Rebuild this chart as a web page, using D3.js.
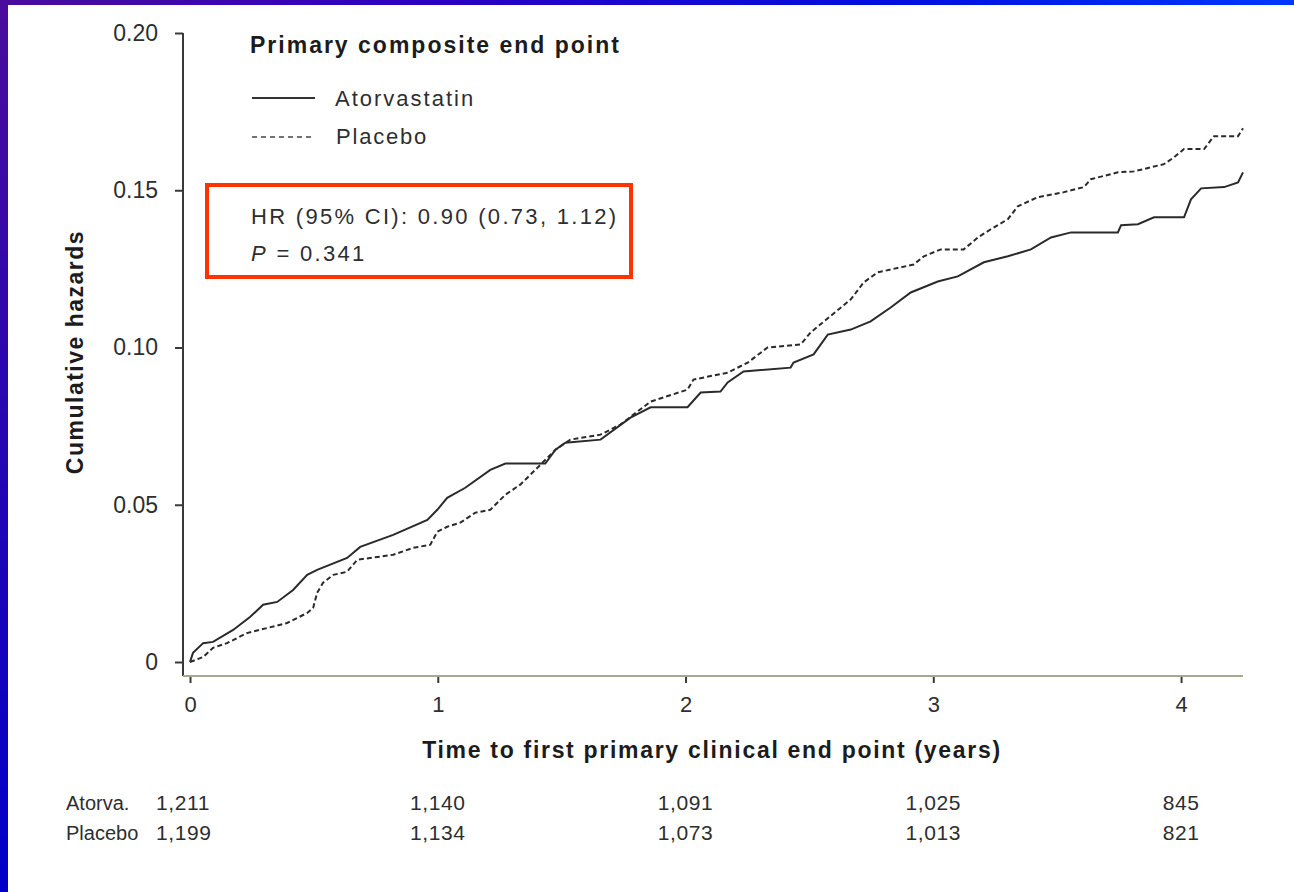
<!DOCTYPE html>
<html>
<head>
<meta charset="utf-8">
<script src="https://cdn.jsdelivr.net/npm/d3@7"></script>
<style>
  html, body { margin: 0; padding: 0; background: #fff; }
  svg { display: block; }
  text { font-family: "Liberation Sans", Arial, Helvetica, sans-serif; }
</style>
</head>
<body>
<svg id="chart" width="1294" height="892"></svg>
<script>
// Cumulative hazard curves: [years, cumulative hazard]
const atorvastatin = [
  [0, 0], [0.012, 0.0029], [0.053, 0.006], [0.093, 0.0064], [0.174, 0.0102],
  [0.242, 0.0143], [0.295, 0.0182], [0.352, 0.0191], [0.416, 0.0229], [0.473, 0.0277],
  [0.513, 0.0293], [0.634, 0.0331], [0.687, 0.0366], [0.82, 0.0404], [0.958, 0.0452],
  [0.998, 0.0484], [1.038, 0.0522], [1.111, 0.0554], [1.212, 0.0611], [1.273, 0.0631],
  [1.434, 0.0631], [1.475, 0.0675], [1.515, 0.0697], [1.657, 0.0707], [1.778, 0.0777],
  [1.859, 0.0810], [2.008, 0.0810], [2.061, 0.0857], [2.141, 0.086], [2.17, 0.0889],
  [2.234, 0.0924], [2.424, 0.0936], [2.436, 0.0952], [2.517, 0.0978], [2.574, 0.1041],
  [2.667, 0.1057], [2.747, 0.1083], [2.828, 0.1127], [2.909, 0.1175], [3.018, 0.121],
  [3.099, 0.1226], [3.204, 0.1271], [3.301, 0.129], [3.394, 0.1312], [3.475, 0.135],
  [3.556, 0.1366], [3.745, 0.1366], [3.758, 0.1389], [3.826, 0.1392], [3.891, 0.1414],
  [4.012, 0.1414], [4.04, 0.1471], [4.081, 0.1506], [4.174, 0.151], [4.23, 0.1525],
  [4.25, 0.1557]
];
const placebo = [
  [0, 0], [0.053, 0.0016], [0.093, 0.0045], [0.149, 0.006], [0.23, 0.0092],
  [0.311, 0.0108], [0.392, 0.0124], [0.473, 0.0156], [0.497, 0.0172], [0.513, 0.022],
  [0.537, 0.0252], [0.578, 0.0277], [0.634, 0.0287], [0.675, 0.0325], [0.82, 0.0341],
  [0.901, 0.0363], [0.97, 0.0373], [0.998, 0.0414], [1.038, 0.043], [1.091, 0.0443],
  [1.152, 0.0475], [1.212, 0.0484], [1.273, 0.0532], [1.333, 0.0564], [1.414, 0.0627],
  [1.475, 0.0675], [1.535, 0.0707], [1.657, 0.0723], [1.737, 0.0755], [1.859, 0.0828],
  [2.008, 0.0866], [2.032, 0.0898], [2.17, 0.092], [2.251, 0.0952], [2.331, 0.1],
  [2.465, 0.101], [2.505, 0.1048], [2.667, 0.1153], [2.719, 0.1207], [2.776, 0.1239],
  [2.921, 0.1264], [2.962, 0.129], [3.03, 0.1312], [3.123, 0.1312], [3.18, 0.135],
  [3.232, 0.1376], [3.301, 0.1408], [3.341, 0.1449], [3.422, 0.1478], [3.527, 0.1494],
  [3.608, 0.151], [3.636, 0.1535], [3.745, 0.1557], [3.81, 0.156], [3.931, 0.1583],
  [3.972, 0.1605], [4.012, 0.1631], [4.093, 0.1631], [4.133, 0.1672], [4.23, 0.1672],
  [4.25, 0.1697]
];

const xTicks = [0, 1, 2, 3, 4];
const yTicks = [0, 0.05, 0.10, 0.15, 0.20];

// Numbers at risk at each year
const riskGroups = ["Atorva.", "Placebo"];
const atRiskAtorva = ["1,211", "1,140", "1,091", "1,025", "845"];
const atRiskPlacebo = ["1,199", "1,134", "1,073", "1,013", "821"];

const legendTitle = "Primary composite end point";
const seriesNames = ["Atorvastatin", "Placebo"];
const hrText = "HR (95% CI): 0.90 (0.73, 1.12)";
const pValue = "0.341";
const xTitle = "Time to first primary clinical end point (years)";
const yTitle = "Cumulative hazards";

const svg = d3.select("#chart");
const W = 1294, H = 892;

// Slide frame: gradient bands on top and left
const defs = svg.append("defs");
const gTop = defs.append("linearGradient").attr("id", "gTop").attr("x1", 0).attr("x2", 1).attr("y1", 0).attr("y2", 0);
gTop.append("stop").attr("offset", "0%").attr("stop-color", "#4a0c9c");
gTop.append("stop").attr("offset", "35%").attr("stop-color", "#2a00c4");
gTop.append("stop").attr("offset", "70%").attr("stop-color", "#0010e0");
gTop.append("stop").attr("offset", "100%").attr("stop-color", "#0038ff");
const gLeft = defs.append("linearGradient").attr("id", "gLeft").attr("x1", 0).attr("x2", 0).attr("y1", 0).attr("y2", 1);
gLeft.append("stop").attr("offset", "0%").attr("stop-color", "#4a0c9c");
gLeft.append("stop").attr("offset", "100%").attr("stop-color", "#0000c8");

svg.append("rect").attr("x", 0).attr("y", 0).attr("width", W).attr("height", H).attr("fill", "#fff");
svg.append("rect").attr("x", 0).attr("y", 0).attr("width", W).attr("height", 5).attr("fill", "url(#gTop)");
svg.append("rect").attr("x", 0).attr("y", 0).attr("width", 8).attr("height", H).attr("fill", "url(#gLeft)");

// Scales
const x = d3.scaleLinear().domain([-0.0283, 4.25]).range([183, 1243]);
const y = d3.scaleLinear().domain([-0.00445, 0.20]).range([676, 33]);

const axisColor = "#3a3a3a";
const textColor = "#2e2e2e";
const boldColor = "#1c1c1c";
const tickFont = "'Liberation Sans', Arial, sans-serif";

// Y axis
const yAxis = svg.append("g").attr("transform", `translate(${x.range()[0]},0)`)
  .call(d3.axisLeft(y).tickValues(yTicks).tickSize(8).tickPadding(17)
    .tickFormat(d => d === 0 ? "0" : d3.format(".2f")(d)));
yAxis.select(".domain").remove();
yAxis.append("line").attr("x1", 0).attr("x2", 0).attr("y1", y(0.2)).attr("y2", y.range()[0])
  .attr("stroke", axisColor).attr("stroke-width", 2);
yAxis.selectAll(".tick line").attr("stroke", axisColor).attr("stroke-width", 2);
yAxis.selectAll(".tick text").attr("fill", textColor)
  .style("font-size", "23px").style("font-family", tickFont);

// X axis
const xAxis = svg.append("g").attr("transform", `translate(0,${y.range()[0]})`)
  .call(d3.axisBottom(x).tickValues(xTicks).tickSize(7).tickPadding(13).tickFormat(d3.format("d")));
xAxis.select(".domain").remove();
xAxis.append("line").attr("x1", x.range()[0]).attr("x2", x.range()[1]).attr("y1", 0).attr("y2", 0)
  .attr("stroke", "#a9a88c").attr("stroke-width", 2);
xAxis.selectAll(".tick line").attr("stroke", axisColor).attr("stroke-width", 2);
xAxis.selectAll(".tick text").attr("fill", textColor)
  .style("font-size", "22px").style("font-family", tickFont);

// Axis titles
svg.append("text").attr("x", 712).attr("y", 758).attr("text-anchor", "middle")
  .attr("font-weight", "bold").attr("font-size", 23).attr("letter-spacing", 1.7)
  .attr("fill", boldColor).text(xTitle);
svg.append("text").attr("transform", "translate(83,352) rotate(-90)").attr("text-anchor", "middle")
  .attr("font-weight", "bold").attr("font-size", 23).attr("letter-spacing", 1.5)
  .attr("fill", boldColor).text(yTitle);

// Curves
const line = d3.line().x(d => x(d[0])).y(d => y(d[1])).curve(d3.curveLinear);
svg.append("path").datum(placebo).attr("d", line).attr("fill", "none")
  .attr("stroke", "#2a2a2a").attr("stroke-width", 2).attr("stroke-dasharray", "5,3");
svg.append("path").datum(atorvastatin).attr("d", line).attr("fill", "none")
  .attr("stroke", "#2a2a2a").attr("stroke-width", 2);

// Legend
svg.append("text").attr("x", 250).attr("y", 53).attr("font-weight", "bold").attr("font-size", 23)
  .attr("letter-spacing", 2).attr("fill", boldColor).text(legendTitle);
svg.append("line").attr("x1", 252).attr("x2", 315).attr("y1", 98).attr("y2", 98)
  .attr("stroke", "#333").attr("stroke-width", 2);
svg.append("text").attr("x", 335).attr("y", 106).attr("font-size", 22).attr("letter-spacing", 2)
  .attr("fill", textColor).text(seriesNames[0]);
svg.append("line").attr("x1", 252).attr("x2", 315).attr("y1", 137).attr("y2", 137)
  .attr("stroke", "#444").attr("stroke-width", 1.5).attr("stroke-dasharray", "5,4");
svg.append("text").attr("x", 336).attr("y", 144).attr("font-size", 22).attr("letter-spacing", 1.8)
  .attr("fill", textColor).text(seriesNames[1]);

// Hazard ratio annotation box
svg.append("rect").attr("x", 207).attr("y", 185).attr("width", 424).attr("height", 92)
  .attr("fill", "none").attr("stroke", "#ff3300").attr("stroke-width", 4);
svg.append("text").attr("x", 251).attr("y", 224).attr("font-size", 22).attr("letter-spacing", 2.3)
  .attr("fill", textColor).text(hrText);
const pText = svg.append("text").attr("x", 251).attr("y", 261).attr("font-size", 22)
  .attr("letter-spacing", 2.3).attr("fill", textColor);
pText.append("tspan").attr("font-style", "italic").text("P");
pText.append("tspan").text(" = " + pValue);

// Numbers at risk table
const rowY = [810, 840];
[atRiskAtorva, atRiskPlacebo].forEach((row, i) => {
  svg.append("text").attr("x", 66).attr("y", rowY[i]).attr("font-size", 20)
    .style("font-family", tickFont).attr("fill", textColor).text(riskGroups[i]);
  row.forEach((v, j) => {
    svg.append("text")
      .attr("x", j === 0 ? 156 : x(xTicks[j]))
      .attr("y", rowY[i])
      .attr("text-anchor", j === 0 ? "start" : "middle")
      .attr("font-size", 21).attr("letter-spacing", 0.6).style("font-family", tickFont).attr("fill", textColor)
      .text(v);
  });
});
</script>
</body>
</html>
